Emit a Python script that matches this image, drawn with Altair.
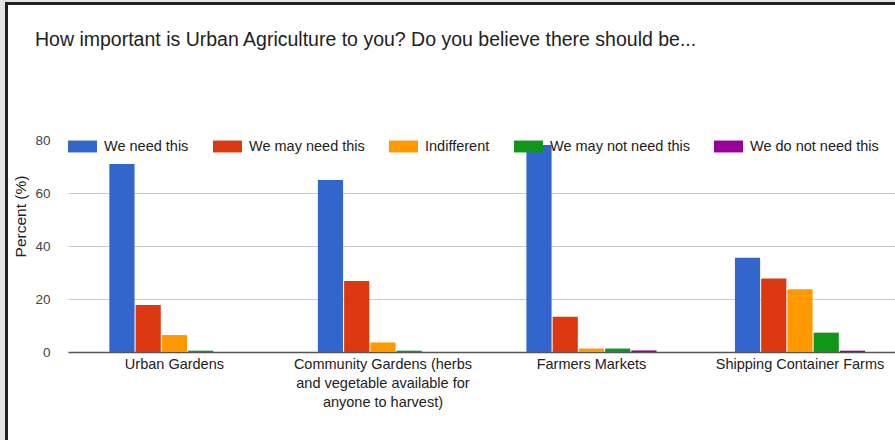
import altair as alt
import pandas as pd

categories = [
    "Urban Gardens",
    "Community Gardens (herbs and vegetable available for anyone to harvest)",
    "Farmers Markets",
    "Shipping Container Farms",
]
community_lines = ["Community Gardens (herbs", "and vegetable available for", "anyone to harvest)"]
series = ["We need this", "We may need this", "Indifferent", "We may not need this", "We do not need this"]
colors = ["#3366cc", "#dc3912", "#ff9900", "#109618", "#990099"]

we_need = [70.9, 64.9, 78.1, 35.6]
we_may_need = [17.7, 26.8, 13.3, 27.7]
indifferent = [6.4, 3.6, 1.3, 23.7]
we_may_not_need = [0.5, 0.5, 1.3, 7.3]
we_do_not_need = [0.0, 0.0, 0.6, 0.5]
y_ticks = [0, 20, 40, 60, 80]

FONT = "Liberation Sans"

rows = []
for i, c in enumerate(categories):
    for s, vals in zip(series, [we_need, we_may_need, indifferent, we_may_not_need, we_do_not_need]):
        rows.append({"category": c, "series": s, "value": vals[i]})
df = pd.DataFrame(rows)

label_expr = (
    "datum.label == '" + categories[1] + "' ? ['" + "','".join(community_lines) + "'] : datum.label"
)

bars = alt.Chart(df).mark_bar().encode(
    x=alt.X(
        "category:N",
        sort=categories,
        scale=alt.Scale(paddingInner=0.376, paddingOuter=0.171, align=0.58),
        axis=alt.Axis(
            title=None,
            labelAngle=0,
            labelExpr=label_expr,
            labelFont=FONT,
            labelFontSize=14.5,
            labelColor="#222222",
            labelLineHeight=19,
            labelPadding=5,
            labelLimit=300,
            ticks=False,
            tickSize=0,
            domainColor="#555555",
            domainWidth=1.5,
            grid=False,
        ),
    ),
    xOffset=alt.XOffset("series:N", sort=series, scale=alt.Scale(paddingInner=0.04, paddingOuter=0)),
    y=alt.Y(
        "value:Q",
        scale=alt.Scale(domain=[0, 80], nice=False),
        axis=alt.Axis(
            values=y_ticks,
            title="Percent (%)",
            titleFont=FONT,
            titleFontSize=15.5,
            titleFontWeight="normal",
            titleColor="#222222",
            titleX=-40,
            titleY=76,
            titleAlign="center",
            titleBaseline="bottom",
            labelFont=FONT,
            labelFontSize=13.5,
            labelColor="#444444",
            labelPadding=18,
            ticks=False,
            tickSize=0,
            domain=False,
            gridColor=alt.condition("datum.value == 80", alt.value("transparent"), alt.value("#cccccc")),
        ),
    ),
    color=alt.Color(
        "series:N",
        sort=series,
        scale=alt.Scale(domain=series, range=colors),
        legend=alt.Legend(
            title=None,
            orient="none",
            direction="horizontal",
            legendX=0,
            legendY=-8,
            padding=0,
            symbolType="M-1,-0.41L1,-0.41L1,0.41L-1,0.41Z",
            symbolSize=841,
            symbolStrokeWidth=0,
            symbolOpacity=1,
            labelOffset=7,
            columnPadding=24,
            labelFont=FONT,
            labelFontSize=14.5,
            labelColor="#222222",
            labelLimit=300,
        ),
    ),
)

frame_data = alt.Data(values=[{"k": 1}])
gray_left = alt.Chart(frame_data).mark_rule(color="#e6e6e6", strokeWidth=5).encode(
    x=alt.value(-65.5), y=alt.value(-140), y2=alt.value(300)
)
gray_top = alt.Chart(frame_data).mark_rule(color="#e6e6e6", strokeWidth=2).encode(
    x=alt.value(-68), x2=alt.value(827), y=alt.value(-139)
)
black_left = alt.Chart(frame_data).mark_rule(color="#222222", strokeWidth=3).encode(
    x=alt.value(-61.5), y=alt.value(-138), y2=alt.value(300)
)
black_top = alt.Chart(frame_data).mark_rule(color="#222222", strokeWidth=3).encode(
    x=alt.value(-63), x2=alt.value(827), y=alt.value(-136.5)
)

chart = alt.layer(bars, gray_left, gray_top, black_left, black_top).properties(
    width=827,
    height=212,
    autosize=alt.AutoSizeParams(type="none"),
    padding={"left": 68, "top": 140, "right": 0, "bottom": 88},
    background="white",
    title=alt.TitleParams(
        "How important is Urban Agriculture to you? Do you believe there should be...",
        anchor="start",
        frame="group",
        dx=-33,
        offset=0,
        dy=68,
        baseline="alphabetic",
        font=FONT,
        fontSize=19.5,
        fontWeight="normal",
        color="#222222",
    ),
).configure_view(stroke="transparent")

chart.save("out.html", embed_options={"renderer": "svg", "actions": False})
